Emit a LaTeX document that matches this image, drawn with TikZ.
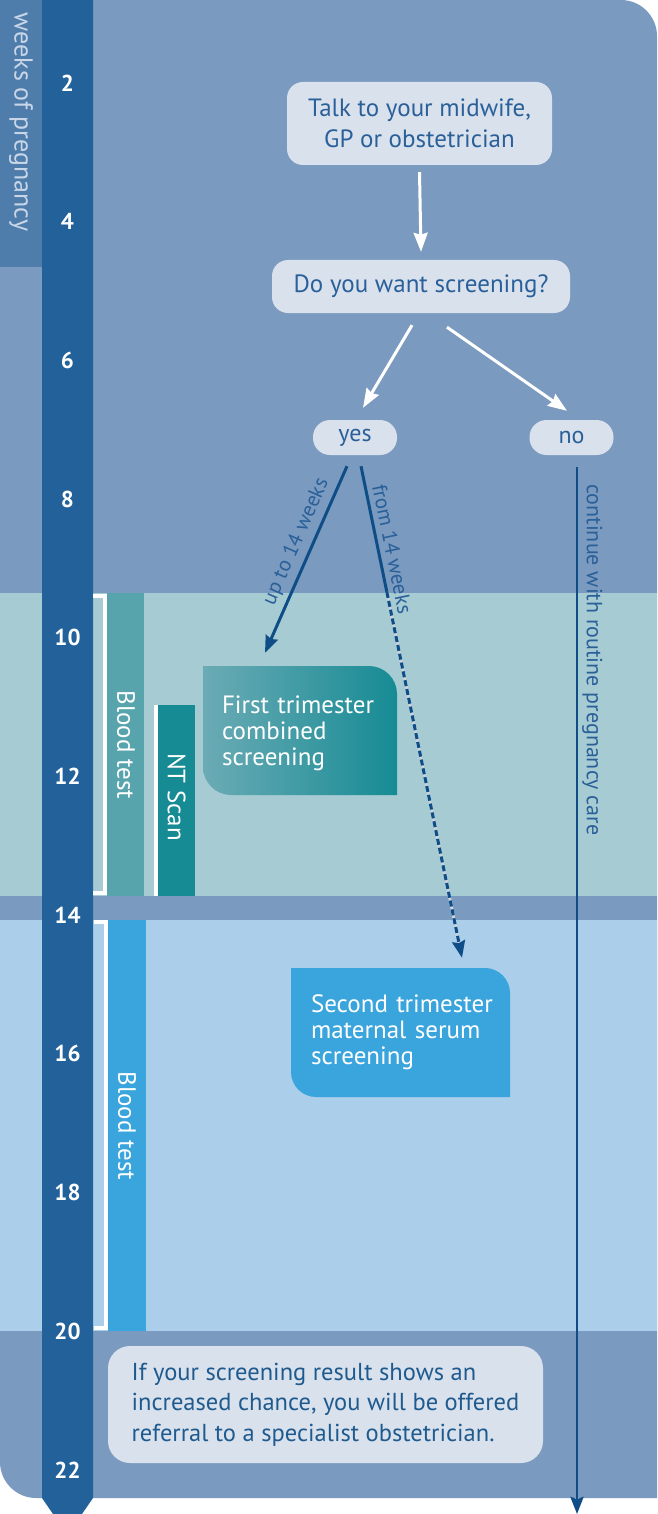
\documentclass[tikz,border=0pt]{standalone}
\usepackage{fontspec}
\setmainfont{PT Sans}
\usetikzlibrary{arrows.meta,calc}

\definecolor{pannello}{HTML}{7B9ABF}
\definecolor{fasciaverde}{HTML}{A6CBD3}
\definecolor{fasciaazzurra}{HTML}{ABCFEB}
\definecolor{colonna}{HTML}{22619A}
\definecolor{etichetta}{HTML}{4F7DAB}
\definecolor{riquadro}{HTML}{D9E1EC}
\definecolor{testoblu}{HTML}{2A6099}
\definecolor{testoscuro}{HTML}{1F5A8E}
\definecolor{freccia}{HTML}{0E4D86}
\definecolor{barraverde}{HTML}{58A4AD}
\definecolor{barrant}{HTML}{168B94}
\definecolor{verdechiaro}{HTML}{6BABB5}
\definecolor{barrablu}{HTML}{3AA4DC}
\definecolor{tenue}{HTML}{C8D6E8}
\definecolor{grigio}{HTML}{C9D3DC}

\begin{document}
\begin{tikzpicture}[x=1pt, y=-1pt,
    bolla/.style={fill=riquadro, rounded corners=16pt, text=testoblu, align=center,
        font=\fontsize{25pt}{31pt}\selectfont},
    pillola/.style={fill=riquadro, rounded corners=17pt, minimum width=84pt,
        minimum height=35pt, text=testoblu, font=\fontsize{24pt}{24pt}\selectfont},
    numero/.style={text=white, font=\fontsize{23pt}{23pt}\selectfont\bfseries},
    barra/.style={rotate=-90, text=white, font=\fontsize{25pt}{25pt}\selectfont},
    scheda/.style={text=white, align=left, minimum height=129pt,
        font=\fontsize{25pt}{26pt}\selectfont},
    frbianca/.style={draw=white, line width=3pt, -{Stealth[length=19pt,width=14pt,inset=2pt]}},
    frblu/.style={draw=freccia, line width=3pt, -{Stealth[length=17pt,width=13pt,inset=2pt]}},
    etich/.style={text=testoblu, sloped, above, inner sep=5pt,
        font=\fontsize{21pt}{21pt}\selectfont},
    parentesi/.style={draw=white, line width=4pt}]

    % riquadro con due angoli arrotondati (alto destra, basso sinistra)
    \def\tagbox#1#2#3#4#5#6{%
        \path[#1] (#2,#3) -- (#4-#6,#3) .. controls (#4-0.45*#6,#3) and (#4,#3+0.45*#6) .. (#4,#3+#6)
            -- (#4,#5) -- (#2+#6,#5) .. controls (#2+0.45*#6,#5) and (#2,#5-0.45*#6) .. (#2,#5-#6) -- cycle;%
    }

    \useasboundingbox (0,0) rectangle (657,1514);
    \fill[white] (0,0) rectangle (657,1514);

    % -- Sfondo e fasce --
    \tagbox{fill=pannello}{0}{0}{657}{1498}{36}
    \fill[fasciaverde] (0,593) rectangle (657,896);
    \fill[fasciaazzurra] (0,920) rectangle (657,1331);

    % -- Colonna delle settimane --
    \fill[etichetta] (0,0) rectangle (42,267);
    \node[rotate=-90, text=tenue, font=\fontsize{26pt}{26pt}\selectfont] (settimane) at (21,122) {weeks of pregnancy};
    \fill[colonna] (42,0) -- (93,0) -- (93,1498) -- (67.5,1535) -- (42,1498) -- cycle;
    \foreach \w [count=\i from 0] in {2,4,...,22}
        \node[numero] (s\w) at (67.5,83+138.7*\i) {\w};

    % -- Esami del primo trimestre --
    \draw[parentesi] (93,595.5) -- (104.5,595.5) -- (104.5,892.5) -- (93,892.5);
    \fill[barraverde] (107,593) rectangle (144,896);
    \node[barra] (sangue1) at (126,745) {Blood test};
    \fill[white] (154,705) rectangle (158,896);
    \fill[barrant] (158,705) rectangle (195,896);
    \node[barra] (ntscan) at (176.5,797) {NT Scan};

    % -- Esami del secondo trimestre --
    \draw[parentesi] (94,922) -- (105.5,922) -- (105.5,1327.5) -- (94,1327.5);
    \fill[barrablu] (108,920) rectangle (146,1331);
    \node[barra] (sangue2) at (127,1126) {Blood test};

    % -- Domande --
    \node[bolla, minimum width=265pt, minimum height=83pt] (parla) at (419.5,123.5) {Talk to your midwife,\\GP or obstetrician};
    \node[bolla, minimum width=298pt, minimum height=53pt] (vuoi) at (421,286.5) {Do you want screening?};
    \node[pillola] (si) at (355,437.5) {yes};
    \node[pillola] (no) at (571.5,437.5) {no};

    \draw[frbianca] ([yshift=-7pt]parla.south) -- ([yshift=8pt]vuoi.north);
    \draw[frbianca] ([xshift=-9pt,yshift=-12pt]vuoi.south) -- ([xshift=8pt,yshift=12pt]si.north);
    \draw[frbianca] ([xshift=26pt,yshift=-14pt]vuoi.south) -- ([xshift=-4.5pt,yshift=9pt]no.north);

    % -- Screening --
    \tagbox{left color=verdechiaro, right color=barrant}{203}{666}{397}{795}{28}
    \node[scheda, text width=156pt, inner xsep=19pt] (primo) at (300,733.5) {First trimester\\combined\\screening};
    \tagbox{fill=barrablu}{291}{968}{510}{1097}{25}
    \node[scheda, text width=190pt, inner xsep=20pt] (secondo) at (406,1032.5) {Second trimester\\maternal serum\\screening};

    \draw[frblu] ([xshift=-8pt,yshift=-11pt]si.south) -- ([xshift=-35pt,yshift=16pt]primo.north)
        node[etich, pos=0.44] {up to 14 weeks};

    \coordinate (inizio) at ([xshift=6pt,yshift=-11pt]si.south);
    \coordinate (fine) at ([xshift=56pt,yshift=10pt]secondo.north);
    \coordinate (rottura) at ($(inizio)!0.256!(fine)$);
    \draw[freccia, line width=3pt] (inizio) -- (rottura) node[etich, pos=0.68] {from 14 weeks};
    \draw[grigio, line width=3pt, shorten >=12pt] (rottura) -- (fine);
    \draw[frblu, dash pattern=on 6pt off 3pt] (rottura) -- (fine);

    % -- Nessuno screening --
    \coordinate (fondo) at (577,1514);
    \draw[frblu, line width=2.5pt] ([xshift=5.5pt,yshift=-12pt]no.south) -- (fondo)
        node[pos=0.184, rotate=-90, anchor=south, inner sep=4pt, text=testoblu,
            font=\fontsize{22pt}{22pt}\selectfont] {continue with routine pregnancy care};

    % -- Esito --
    \node[bolla, rounded corners=22pt, align=left, minimum width=435pt,
        minimum height=117pt, text=testoscuro, font=\fontsize{24.5pt}{30.5pt}\selectfont] (esito) at (325.5,1404.5)
        {If your screening result shows an\\increased chance, you will be offered\\referral to a specialist obstetrician.};

\end{tikzpicture}
\end{document}
